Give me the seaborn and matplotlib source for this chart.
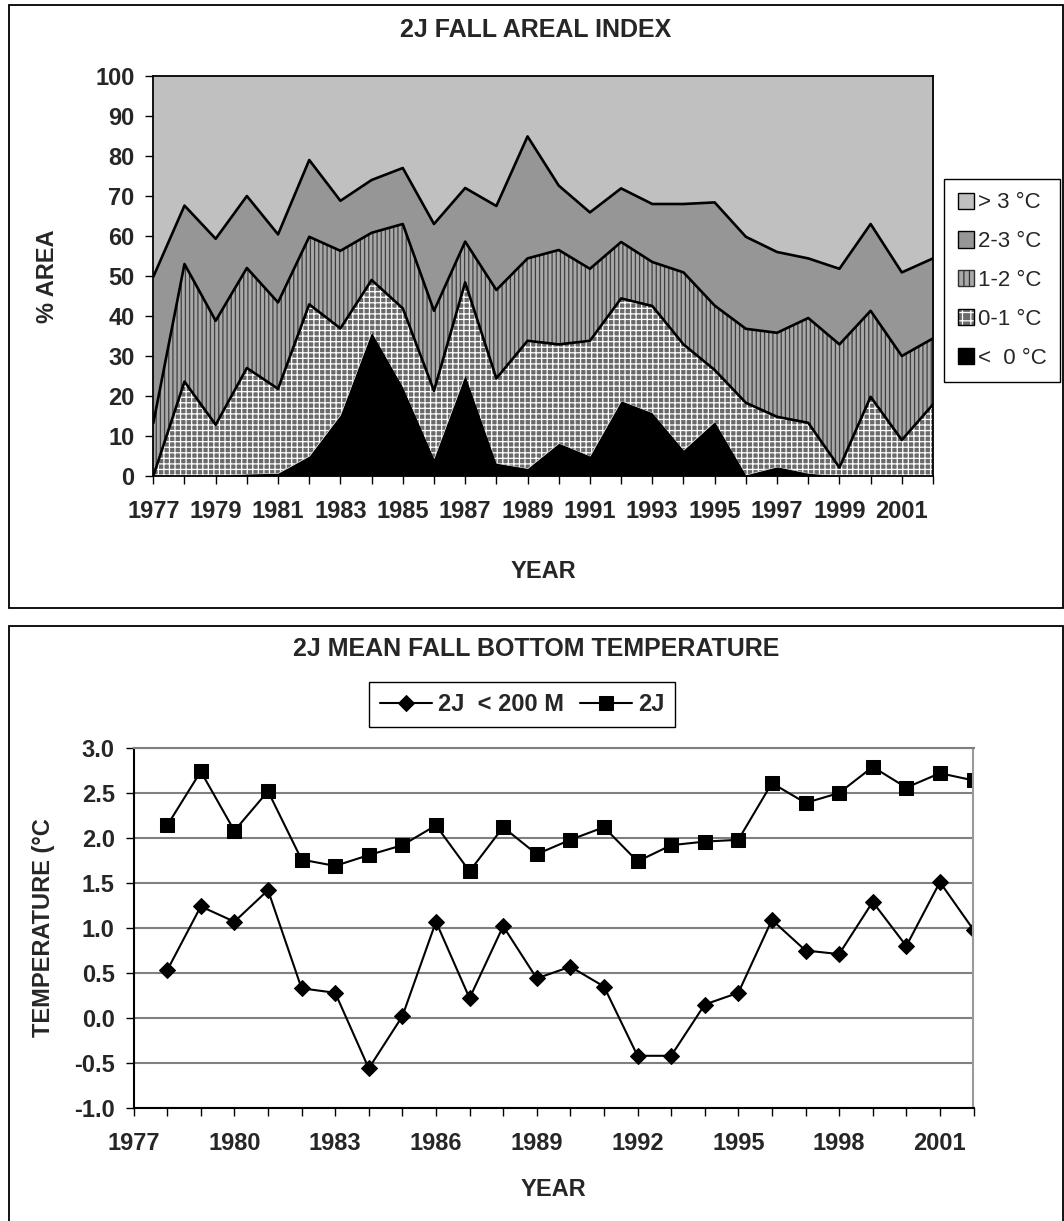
import numpy as np
import matplotlib
matplotlib.use("Agg")
from matplotlib import pyplot as plt
from matplotlib.patches import Patch, Rectangle
from matplotlib.legend_handler import HandlerTuple
import seaborn as sns

# ---- data: top chart (% of area per temperature class) ----
years = list(range(1977, 2003))
below_0 = [0, 0, 0, 0.5, 0.7, 5.0, 15.3, 36.0, 22.3, 4.4, 25.3, 3.2, 1.9,
           8.2, 5.0, 18.8, 15.8, 6.5, 13.6, 0.3, 2.3, 0.7, 0, 0, 0, 0]
band_0_1 = [0, 23.6, 12.8, 26.5, 21.1, 37.9, 21.6, 13.0, 19.6, 16.9, 23.1, 21.2, 31.9,
            24.7, 28.8, 25.6, 26.7, 26.4, 12.9, 18.0, 12.5, 12.6, 2.1, 19.8, 9.0, 17.9]
band_1_2 = [13.2, 29.4, 26.0, 25.0, 21.6, 16.9, 19.4, 11.8, 21.1, 20.0, 10.2, 22.1, 20.6,
            23.6, 18.0, 14.1, 11.0, 18.0, 16.1, 18.5, 21.0, 26.2, 30.8, 21.5, 21.0, 16.5]
band_2_3 = [36.6, 14.6, 20.5, 18.0, 17.0, 19.2, 12.5, 13.2, 14.0, 21.7, 13.4, 21.0, 30.5,
            16.1, 14.1, 13.4, 14.5, 17.1, 25.8, 23.0, 20.2, 14.9, 18.9, 21.7, 20.9, 20.0]
above_3 = [50.2, 32.4, 40.7, 30.0, 39.6, 21.0, 31.2, 26.0, 23.0, 37.0, 28.0, 32.5, 15.1,
           27.4, 34.1, 28.1, 32.0, 32.0, 31.6, 40.2, 44.0, 45.6, 48.2, 37.0, 49.1, 45.6]
band_labels = ["<  0 °C", "0-1 °C", "1-2 °C", "2-3 °C", "> 3 °C"]
top_xticklabels = [str(y) if (y - 1977) % 2 == 0 else "" for y in years]

# ---- data: bottom chart (mean bottom temperature) ----
temp_years = list(range(1978, 2003))
temp_lt200 = [0.53, 1.24, 1.07, 1.42, 0.33, 0.28, -0.56, 0.02, 1.07, 0.22, 1.02, 0.44,
              0.57, 0.35, -0.42, -0.42, 0.15, 0.28, 1.09, 0.75, 0.71, 1.29, 0.80, 1.51, 0.98]
temp_all = [2.14, 2.74, 2.08, 2.52, 1.76, 1.69, 1.81, 1.92, 2.14, 1.63, 2.12, 1.82,
            1.98, 2.12, 1.74, 1.92, 1.96, 1.98, 2.61, 2.39, 2.50, 2.79, 2.56, 2.72, 2.64]
series_labels = ["2J  < 200 M", "2J"]
bottom_xticklabels = [str(y) if (y - 1977) % 3 == 0 else "" for y in years]
temp_yticks = [-1.0, -0.5, 0.0, 0.5, 1.0, 1.5, 2.0, 2.5, 3.0]

sns.set_theme(style="white")
plt.rcParams['font.family'] = ['Liberation Sans', 'DejaVu Sans']
plt.rcParams['hatch.linewidth'] = 0.9

W, H = 1064, 1221
fig = plt.figure(figsize=(W / 100, H / 100), dpi=100)
fig.patch.set_facecolor("white")


def box(left, top, right, bottom):
    return [left / W, 1 - bottom / H, (right - left) / W, (bottom - top) / H]


# outer chart frames
fig.add_artist(Rectangle((9.3 / W, 1 - 608 / H), (1063 - 9.3) / W, (608 - 4.8) / H,
                         transform=fig.transFigure, fill=False, ec="black", lw=1.3))
fig.add_artist(Rectangle((9.3 / W, -0.02), (1063 - 9.3) / W, 1 - 626 / H + 0.02,
                         transform=fig.transFigure, fill=False, ec="black", lw=1.3))

tick_font = 17

# ================= top chart =================
ax1 = fig.add_axes(box(153.3, 76, 933, 476))
cum = np.cumsum([below_0, band_0_1, band_1_2, band_2_3, above_3], axis=0)

fill_styles = [
    dict(facecolor="black", linewidth=0),
    dict(facecolor="#6a6a6a", edgecolor="white", hatch="+++", linewidth=0),
    dict(facecolor="#a8a8a8", edgecolor="#404040", hatch="||||", linewidth=0),
    dict(facecolor="#969696", linewidth=0),
    dict(facecolor="#c0c0c0", linewidth=0),
]
lower = np.zeros(len(years))
for k, style in enumerate(fill_styles):
    ax1.fill_between(years, lower, cum[k], **style)
    lower = cum[k]

for k in (1, 2, 3):
    sns.lineplot(x=years, y=cum[k], color="black", linewidth=1.9, ax=ax1)

ax1.set_xlim(1977, 2002)
ax1.set_ylim(0, 100)
ax1.set_xticks(years)
ax1.set_xticklabels(top_xticklabels)
ax1.set_yticks(range(0, 101, 10))
for s in ax1.spines.values():
    s.set_color("black")
    s.set_linewidth(1.3)
ax1.tick_params(axis="both", direction="out", length=5.5, width=1.0, color="black",
                labelsize=tick_font, left=True, bottom=True)
ax1.tick_params(axis="x", pad=12)
ax1.tick_params(axis="y", pad=8)
for lab in ax1.get_xticklabels() + ax1.get_yticklabels():
    lab.set_fontweight("bold")
ax1.set_xlabel("YEAR", fontsize=tick_font, fontweight="bold")
ax1.set_ylabel("% AREA", fontsize=tick_font, fontweight="bold")
ax1.xaxis.set_label_coords(0.5, (476 - 571) / 400)
ax1.xaxis.label.set_va("center")
ax1.yaxis.set_label_coords((47 - 153.3) / 779.7, 0.5)
ax1.yaxis.label.set_va("center")

fig.text(536 / W, 1 - 30 / H, "2J FALL AREAL INDEX", ha="center", va="center",
         fontsize=18, fontweight="bold")

leg_handles = [
    Patch(facecolor="#c0c0c0", edgecolor="black", linewidth=1.0),
    Patch(facecolor="#969696", edgecolor="black", linewidth=1.0),
    Patch(facecolor="#a8a8a8", edgecolor="#303030", hatch="|||", linewidth=1.0),
    (Patch(facecolor="#6a6a6a", edgecolor="white", hatch="++", linewidth=0),
     Patch(fill=False, edgecolor="black", linewidth=1.0)),
    Patch(facecolor="black", edgecolor="black", linewidth=1.0),
]
leg1 = fig.legend(leg_handles, band_labels[::-1], loc="center",
                  bbox_to_anchor=(1002 / W, 1 - 280.5 / H),
                  handler_map={tuple: HandlerTuple(ndivide=1)},
                  fontsize=16, frameon=True, fancybox=False, framealpha=1,
                  edgecolor="black", handlelength=0.75, handleheight=0.75,
                  handletextpad=0.15, labelspacing=0.8, borderpad=0.6,
                  borderaxespad=0)
leg1.get_frame().set_linewidth(1.0)

# ================= bottom chart =================
ax2 = fig.add_axes(box(133.6, 748, 973.5, 1108))
sns.lineplot(x=temp_years, y=temp_lt200, color="black", linewidth=1.5, marker="D",
             markersize=8, markeredgecolor="black", label=series_labels[0], ax=ax2)
sns.lineplot(x=temp_years, y=temp_all, color="black", linewidth=1.5, marker="s",
             markersize=10, markeredgecolor="black", label=series_labels[1], ax=ax2)
handles, labels = ax2.get_legend_handles_labels()
ax2.get_legend().remove()

ax2.set_xlim(1977, 2002)
ax2.set_ylim(-1, 3)
ax2.set_xticks(years)
ax2.set_xticklabels(bottom_xticklabels)
ax2.set_yticks(temp_yticks)
ax2.set_yticklabels([f"{v:.1f}" for v in temp_yticks])
ax2.yaxis.grid(True, color="#808080", linewidth=1.5)
ax2.xaxis.grid(False)
ax2.set_axisbelow(True)
ax2.spines["left"].set_color("black")
ax2.spines["bottom"].set_color("black")
ax2.spines["top"].set_color("#808080")
ax2.spines["right"].set_color("#999999")
for s in ax2.spines.values():
    s.set_linewidth(1.5)
ax2.tick_params(axis="both", direction="out", length=5.5, width=1.0, color="black",
                labelsize=tick_font, left=True, bottom=True)
ax2.tick_params(axis="x", pad=12)
ax2.tick_params(axis="y", pad=8)
for lab in ax2.get_xticklabels() + ax2.get_yticklabels():
    lab.set_fontweight("bold")
ax2.set_xlabel("YEAR", fontsize=tick_font, fontweight="bold")
ax2.set_ylabel("TEMPERATURE (°C", fontsize=tick_font, fontweight="bold")
ax2.xaxis.set_label_coords(0.5, (1108 - 1189) / 360)
ax2.xaxis.label.set_va("center")
ax2.yaxis.set_label_coords((43 - 133.6) / 839.9, 0.5)
ax2.yaxis.label.set_va("center")

fig.text(536 / W, 1 - 649 / H, "2J MEAN FALL BOTTOM TEMPERATURE", ha="center",
         va="center", fontsize=18, fontweight="bold")

leg2 = fig.legend(handles, labels, loc="center", ncol=2,
                  bbox_to_anchor=(522 / W, 1 - 704.5 / H),
                  prop={"weight": "bold", "size": tick_font}, frameon=True,
                  fancybox=False, framealpha=1, edgecolor="black",
                  handlelength=2.2, handletextpad=0.25, columnspacing=0.7,
                  borderpad=0.45, borderaxespad=0)
leg2.get_frame().set_linewidth(1.0)

fig.savefig("out.png", dpi=100)
